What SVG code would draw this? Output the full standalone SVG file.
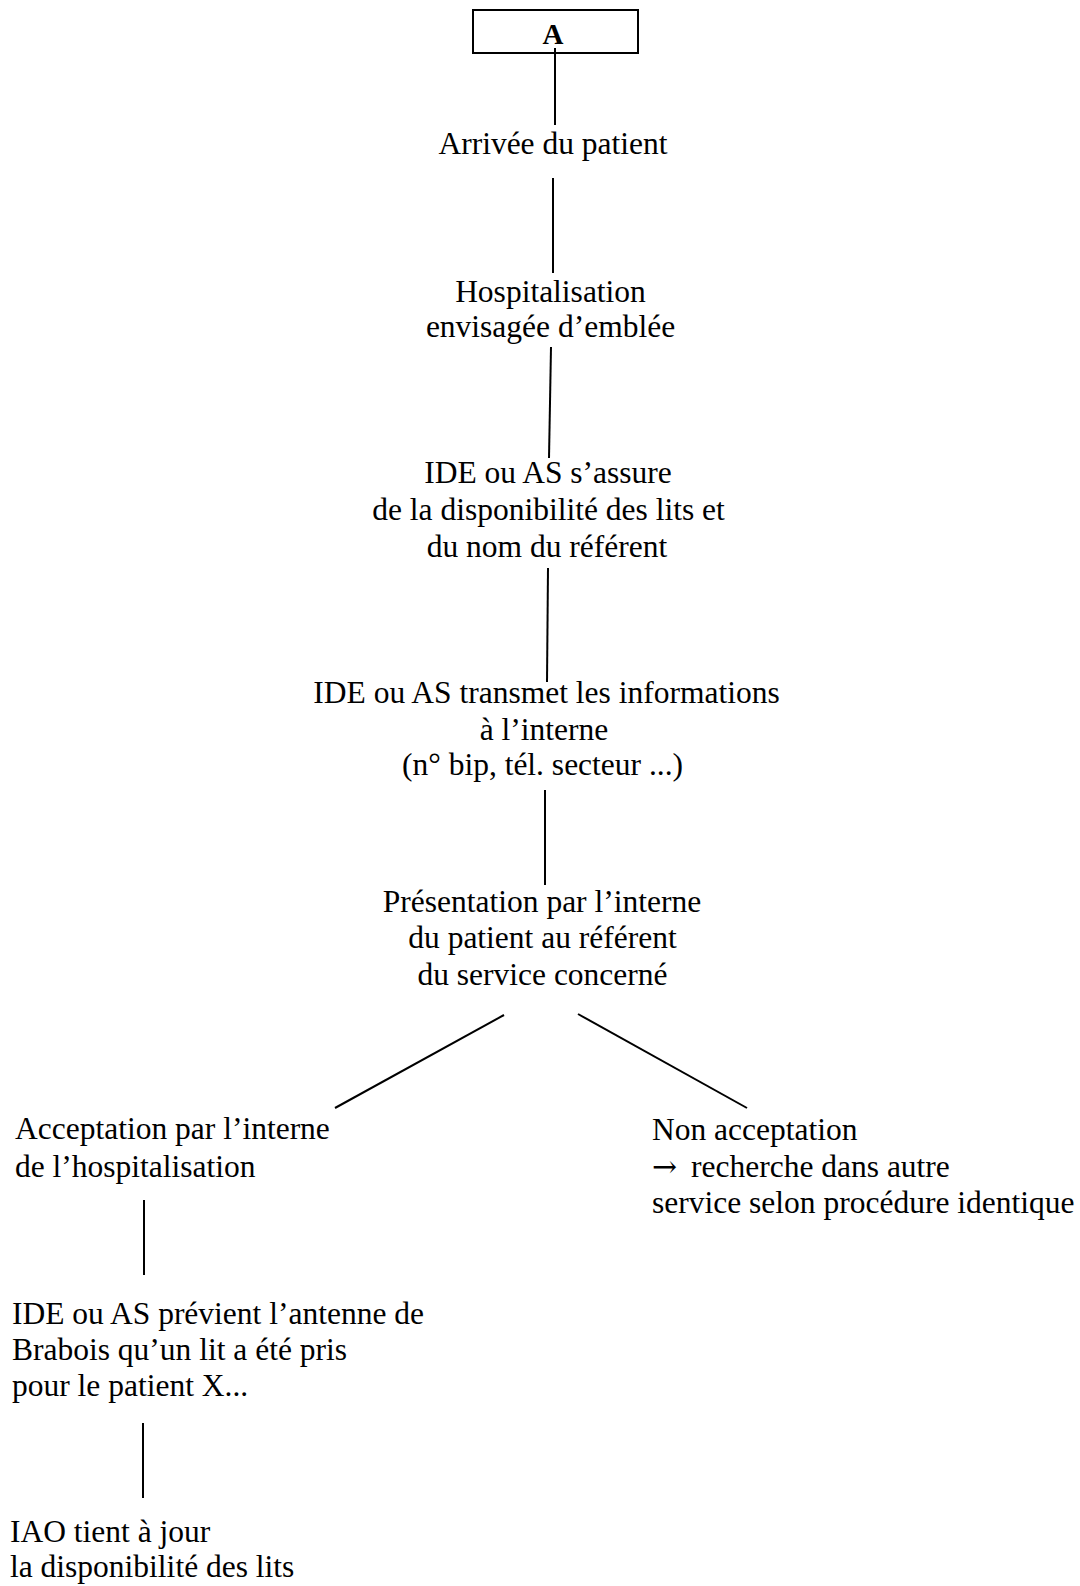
<svg xmlns="http://www.w3.org/2000/svg" width="1080" height="1586" viewBox="0 0 1080 1586">
<style>
  text { font-family: "Liberation Serif", "Times New Roman", "DejaVu Serif", serif; font-size: 31.5px; fill: #000; }
  .c { text-anchor: middle; }
  .l { text-anchor: start; }
  .bold { font-weight: bold; font-size: 29px; }
  .arrow { font-family: "DejaVu Serif", "DejaVu Sans", serif; font-size: 30px; font-weight: 300; }
  .box { fill: #fff; stroke: #000; stroke-width: 2; }
  .conn line { stroke: #000; stroke-width: 2; stroke-linecap: butt; }
</style>
<rect x="0" y="0" width="1080" height="1586" fill="#fff"/>

<g id="node-A">
  <rect class="box" x="473" y="10" width="165" height="43"/>
  <text class="c bold" x="553" y="44">A</text>
</g>

<g id="connectors" class="conn">
  <line x1="555" y1="48" x2="555" y2="125"/>
  <line x1="553" y1="178" x2="553" y2="273"/>
  <line x1="551" y1="347" x2="549" y2="458"/>
  <line x1="548" y1="568" x2="547" y2="682"/>
  <line x1="545" y1="790" x2="545" y2="885"/>
  <line x1="504" y1="1015" x2="335" y2="1108"/>
  <line x1="578" y1="1014" x2="747" y2="1108"/>
  <line x1="144" y1="1200" x2="144" y2="1275"/>
  <line x1="143" y1="1423" x2="143" y2="1498"/>
</g>

<g id="node-arrivee">
  <text class="c" x="553" y="154">Arrivée du patient</text>
</g>

<g id="node-hospitalisation">
  <text class="c" x="550.5" y="302">Hospitalisation</text>
  <text class="c" x="550.5" y="337">envisagée d’emblée</text>
</g>

<g id="node-assure">
  <text class="c" x="548" y="483">IDE ou AS s’assure</text>
  <text class="c" x="548.5" y="520">de la disponibilité des lits et</text>
  <text class="c" x="547" y="557">du nom du référent</text>
</g>

<g id="node-transmet">
  <text class="c" x="546.5" y="703">IDE ou AS transmet les informations</text>
  <text class="c" x="544" y="740">à l’interne</text>
  <text class="c" x="542.5" y="775">(n° bip, tél. secteur ...)</text>
</g>

<g id="node-presentation">
  <text class="c" x="542" y="912">Présentation par l’interne</text>
  <text class="c" x="542.5" y="948">du patient au référent</text>
  <text class="c" x="542.5" y="985">du service concerné</text>
</g>

<g id="node-acceptation">
  <text class="l" x="15" y="1139">Acceptation par l’interne</text>
  <text class="l" x="15" y="1177">de l’hospitalisation</text>
</g>

<g id="node-non-acceptation">
  <text class="l" x="652" y="1140">Non acceptation</text>
  <text class="l" x="652" y="1177"><tspan class="arrow">→</tspan><tspan dx="6"> recherche dans autre</tspan></text>
  <text class="l" x="652" y="1213">service selon procédure identique</text>
</g>

<g id="node-previent">
  <text class="l" x="12" y="1324">IDE ou AS prévient l’antenne de</text>
  <text class="l" x="12" y="1360">Brabois qu’un lit a été pris</text>
  <text class="l" x="12" y="1396">pour le patient X...</text>
</g>

<g id="node-iao">
  <text class="l" x="10" y="1542">IAO tient à jour</text>
  <text class="l" x="10" y="1577">la disponibilité des lits</text>
</g>
</svg>
